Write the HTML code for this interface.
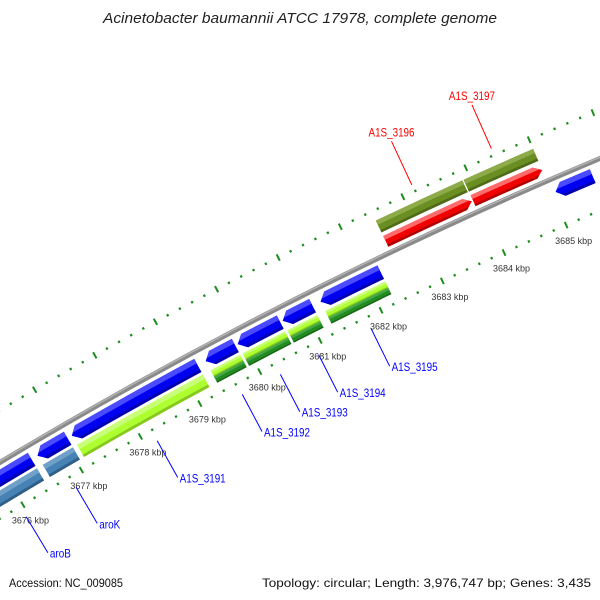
<!DOCTYPE html>
<html><head><meta charset="utf-8"><style>
html,body{margin:0;padding:0;background:#fff;width:600px;height:600px;overflow:hidden;}
svg{display:block;font-family:"Liberation Sans",sans-serif;}
</style></head><body>
<svg id="map" width="600" height="600" viewBox="0 0 600 600" xmlns="http://www.w3.org/2000/svg">
<rect width="600" height="600" fill="#fff"/>
<g id="ticks"></g>
<g id="backbone"></g>
<g id="features"></g>
<g id="labels"></g>
<text x="103" y="23" textLength="394" lengthAdjust="spacingAndGlyphs" font-size="15" font-style="italic" fill="#222">Acinetobacter baumannii ATCC 17978, complete genome</text>
<text x="9" y="587" textLength="114" lengthAdjust="spacingAndGlyphs" font-size="12" fill="#111">Accession: NC_009085</text>
<text x="262" y="587" textLength="329" lengthAdjust="spacingAndGlyphs" font-size="12" fill="#111">Topology: circular; Length: 3,976,747 bp; Genes: 3,435</text>
</svg>
<script>
// data (kbp)
const geneNames = ['aroB','aroK','A1S_3191','A1S_3192','A1S_3193','A1S_3194','A1S_3195','A1S_3196','A1S_3197',''];
const geneStarts = [3675.45,3676.55,3677.13,3679.37,3679.90,3680.64,3681.26,3682.50,3683.90,3685.05];
const geneEnds   = [3676.45,3677.06,3679.24,3679.86,3680.60,3681.13,3682.24,3683.88,3685.00,3685.64];
const geneStrands = [-1,-1,-1,-1,-1,-1,-1,1,1,-1];
const cogTop = ['steel','steel','lime','lime','lime','lime','lime','olive','olive',''];
const cogBottom = ['steel','steel','lime','dark','dark','dark','dark','olive','olive',''];
const tickLabelValues = [3676,3677,3678,3679,3680,3681,3682,3683,3684,3685];

const NS='http://www.w3.org/2000/svg';
const CX=2411, CY=4476;
const K0=3684, A0=-24.30, DEG_PER_KBP=0.84;
function ang(k){return (A0+(k-K0)*DEG_PER_KBP)*Math.PI/180;}
function pt(k,r){const a=ang(k);return [CX+r*Math.sin(a), CY-r*Math.cos(a)];}
function f(p){return p[0].toFixed(2)+' '+p[1].toFixed(2);}
function mk(tag,attrs,parent){const e=document.createElementNS(NS,tag);for(const k in attrs)e.setAttribute(k,attrs[k]);parent.appendChild(e);return e;}
function sector(k1,k2,r1,r2){
  return 'M'+f(pt(k1,r2))+' A'+r2+' '+r2+' 0 0 1 '+f(pt(k2,r2))+' L'+f(pt(k2,r1))+' A'+r1+' '+r1+' 0 0 0 '+f(pt(k1,r1))+'Z';
}
function arrow(k1,k2,r1,r2,strand){
  const h=0.115, rm=(r1+r2)/2;
  if(strand<0){
    return 'M'+f(pt(k1,rm))+' L'+f(pt(k1+h,r2))+' A'+r2+' '+r2+' 0 0 1 '+f(pt(k2,r2))+' L'+f(pt(k2,r1))+' A'+r1+' '+r1+' 0 0 0 '+f(pt(k1+h,r1))+'Z';
  }
  return 'M'+f(pt(k1,r2))+' A'+r2+' '+r2+' 0 0 1 '+f(pt(k2-h,r2))+' L'+f(pt(k2,rm))+' L'+f(pt(k2-h,r1))+' A'+r1+' '+r1+' 0 0 0 '+f(pt(k1,r1))+'Z';
}
const palette={
  blue:['#0000f0','#4a4aff','#0000b0'],
  red:['#f00000','#ff6a6a','#b00000'],
  olive:['#6b8e23','#8eab4a','#4f6b18'],
  lime:['#adff2f','#c9ff78','#86c820'],
  dark:['#228b22','#45a845','#186818'],
  steel:['#4682b4','#6fa0c8','#2f5f86']
};

// ticks
const tg=document.getElementById('ticks');
function tickRing(r,name){
  for(let i=0;i<=120;i++){
    const k=3674+i*0.2;
    const major=(i%5===0);
    const len=major?7:2.4, w=major?2:2.2;
    const l=mk('line',{x1:pt(k,r-len/2)[0],y1:pt(k,r-len/2)[1],x2:pt(k,r+len/2)[0],y2:pt(k,r+len/2)[1],stroke:'#1f8c1f','stroke-width':w},tg);
    
    
  }
}
tickRing(4727,'outer');
tickRing(4634,'inner');
tickLabelValues.forEach(v=>{
  const p=pt(v,4634);
  const t=mk('text',{x:p[0]-11,y:p[1]+19,'font-size':9,fill:'#333'},tg);
  t.textContent=v+' kbp';
  
  
});

// backbone
const bb=document.getElementById('backbone');
const b1=mk('path',{d:'M'+f(pt(3670,4682))+' A4682 4682 0 0 1 '+f(pt(3690,4682)),fill:'none',stroke:'#8a8a8a','stroke-width':5},bb);


mk('path',{d:'M'+f(pt(3670,4683.2))+' A4683.2 4683.2 0 0 1 '+f(pt(3690,4683.2)),fill:'none',stroke:'#b5b5b5','stroke-width':1.3},bb);

// features
const fg=document.getElementById('features');
let cid=0;
function drawShape(k1,k2,r1,r2,col,strand,name,isArrow){
  const g=mk('g',{},fg);
  
  
  const d=isArrow?arrow(k1,k2,r1,r2,strand):sector(k1,k2,r1,r2);
  mk('path',{d:d,fill:col[0]},g);
  const id='clip'+(cid++);
  const cp=mk('clipPath',{id:id},g);
  mk('path',{d:d},cp);
  mk('path',{d:sector(k1-0.2,k2+0.2,r2-(r2-r1)*0.35,r2+1),fill:col[1],'clip-path':'url(#'+id+')'},g);
  mk('path',{d:sector(k1-0.2,k2+0.2,r1-1,r1+(r2-r1)*0.2),fill:col[2],'clip-path':'url(#'+id+')'},g);
}
geneStarts.forEach((s,i)=>{
  const e=geneEnds[i], st=geneStrands[i];
  const nm=geneNames[i]||('gene-'+i);
  if(st>0){
    drawShape(s,e,4688,4700,palette.red,st,'gene-arrow-'+nm,true);
    if(cogTop[i]) drawShape(s,e,4704,4717,palette[cogTop[i]],st,'cog-bar-'+nm,false);
  } else {
    drawShape(s,e,4661,4676,palette.blue,st,'gene-arrow-'+nm,true);
    if(cogTop[i]){
      if(cogTop[i]===cogBottom[i]) drawShape(s,e,4644,4658,palette[cogTop[i]],st,'cog-bar-'+nm,false);
      else {
        drawShape(s,e,4651,4658,palette[cogTop[i]],st,'cog-bar-top-'+nm,false);
        drawShape(s,e,4644,4651,palette[cogBottom[i]],st,'cog-bar-bottom-'+nm,false);
      }
    }
  }
});

// labels
const lg=document.getElementById('labels');
geneStarts.forEach((s,i)=>{
  if(!geneNames[i]) return;
  const c=(s+geneEnds[i])/2, st=geneStrands[i];
  const col=st>0?'#ff0000':'#0000ff';
  let a,b;
  if(st>0){a=pt(c,4734);b=pt(c,4782);} else {a=pt(c,4622);b=pt(c,4580);}
  const l=mk('line',{x1:a[0],y1:a[1],x2:b[0],y2:b[1],stroke:col,'stroke-width':1},lg);
  
  
  const w=geneNames[i].length>4?46:21;
  const t=st>0?mk('text',{x:b[0]-w/2,y:b[1]-5,textLength:w,lengthAdjust:'spacingAndGlyphs','font-size':12,fill:col},lg)
             :mk('text',{x:b[0]+2,y:b[1]+5,textLength:w,lengthAdjust:'spacingAndGlyphs','font-size':12,fill:col},lg);
  t.textContent=geneNames[i];
  
  
});
</script>
</body></html>
